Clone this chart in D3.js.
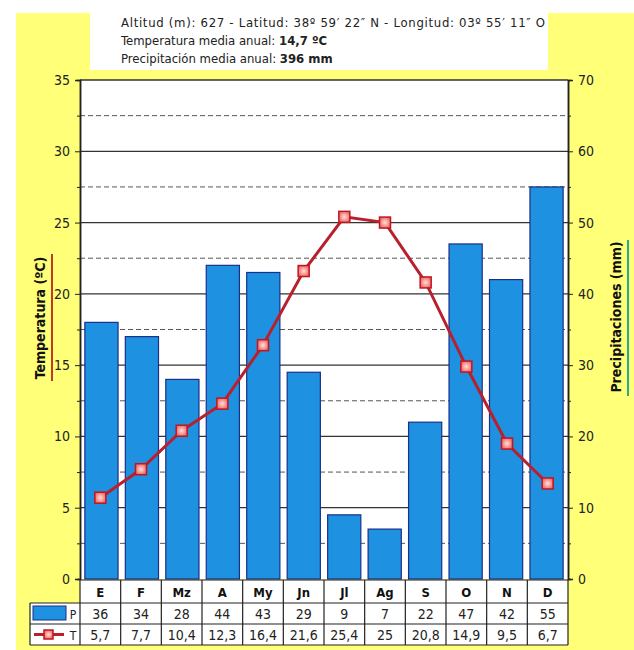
<!DOCTYPE html>
<html><head><meta charset="utf-8">
<script src="https://cdn.jsdelivr.net/npm/d3@7"></script>
<style>body{margin:0;background:#fff}svg{display:block}</style>
</head><body>
<script>
const months = ["E","F","Mz","A","My","Jn","Jl","Ag","S","O","N","D"];
const precip = [36,34,28,44,43,29,9,7,22,47,42,55];
const temp = [5.7,7.7,10.4,12.3,16.4,21.6,25.4,25,20.8,14.9,9.5,6.7];
const tempLabels = ["5,7","7,7","10,4","12,3","16,4","21,6","25,4","25","20,8","14,9","9,5","6,7"];
const tempTicks = [0,5,10,15,20,25,30,35];
const precipTicks = [0,10,20,30,40,50,60,70];
const headerLines = [
  [["Altitud (m): 627 - Latitud: 38º 59′ 22″ N - Longitud: 03º 55′ 11″ O", false]],
  [["Temperatura media anual: ", false], ["14,7 ºC", true]],
  [["Precipitación media anual: ", false], ["396 mm", true]]
];

const W = 634, H = 650;
const FONT = "'DejaVu Sans Condensed','DejaVu Sans',sans-serif";
const svg = d3.select("body").append("svg").attr("width", W).attr("height", H)
  .style("font-family", FONT);

// background
svg.append("rect").attr("x",16).attr("y",13).attr("width",W-16).attr("height",H-13).attr("fill","#ffff78");
svg.append("rect").attr("x",90).attr("y",12).attr("width",458).attr("height",58).attr("fill","#fff");

const L = 80, R = 568, T = 80, B = 579;
const x = d3.scaleBand().domain(months).range([L, R]).paddingInner(0.18).paddingOuter(0.12);
const xc = d3.scaleBand().domain(months).range([L, R]);
const yT = d3.scaleLinear().domain([0,35]).range([B, T]);
const yP = d3.scaleLinear().domain([0,70]).range([B, T]);

svg.append("rect").attr("x",L).attr("y",T).attr("width",R-L).attr("height",B-T).attr("fill","#fff");

// header text
const ht = svg.append("g").attr("font-size", 13).attr("fill","#222").style("font-family",FONT);
headerLines.forEach((parts, i) => {
  const t = ht.append("text").attr("x", 121).attr("y", 27 + i*18).attr("textLength", i===0 ? 424 : null);
  parts.forEach(p => t.append("tspan").text(p[0]).attr("font-weight", p[1] ? "bold" : "normal"));
});

// gridlines
const gridVals = d3.range(2.5, 35, 2.5);
svg.append("g").selectAll("line").data(gridVals).join("line")
  .attr("x1", L).attr("x2", R).attr("y1", d=>yT(d)).attr("y2", d=>yT(d))
  .attr("stroke", d => d%5===0 ? "#333" : "#555")
  .attr("stroke-width", d => d%5===0 ? 1.2 : 1)
  .attr("stroke-dasharray", d => d%5===0 ? null : "5,3");
svg.append("line").attr("x1",L).attr("x2",R).attr("y1",T).attr("y2",T).attr("stroke","#333").attr("stroke-width",1.5);

// bars
svg.append("g").selectAll("rect").data(months).join("rect")
  .attr("x", d=>x(d)).attr("width", x.bandwidth())
  .attr("y", (d,i)=>yP(precip[i])).attr("height", (d,i)=>B - yP(precip[i]))
  .attr("fill", "#1e92e0").attr("stroke", "#1a2f8a").attr("stroke-width", 1.2);

// axes
const axL = svg.append("g").attr("transform", `translate(${L},0)`)
  .call(d3.axisLeft(yT).tickValues(tempTicks).tickSize(5).tickPadding(5));
const axLm = svg.append("g").attr("transform", `translate(${L},0)`)
  .call(d3.axisLeft(yT).tickValues(d3.range(2.5,35,5)).tickSize(3).tickFormat(""));
const axR = svg.append("g").attr("transform", `translate(${R},0)`)
  .call(d3.axisRight(yP).tickValues(precipTicks).tickSize(5).tickPadding(5));
const axRm = svg.append("g").attr("transform", `translate(${R},0)`)
  .call(d3.axisRight(yP).tickValues(d3.range(5,70,10)).tickSize(3).tickFormat(""));
[axL, axR, axLm, axRm].forEach(a => {
  a.select(".domain").attr("stroke","#222").attr("stroke-width",1.5);
  a.selectAll(".tick line").attr("stroke","#222");
  a.selectAll("text").attr("font-size", 14).attr("fill","#222").attr("font-family",FONT);
});

// temperature line
const line = d3.line().x((d,i)=>xc(months[i]) + xc.bandwidth()/2).y(d=>yT(d));
svg.append("path").datum(temp).attr("d", line).attr("fill","none")
  .attr("stroke","#b8202e").attr("stroke-width",3);
const defs = svg.append("defs");
const rg = defs.append("radialGradient").attr("id","mk");
rg.append("stop").attr("offset","0%").attr("stop-color","#ffe0d8");
rg.append("stop").attr("offset","100%").attr("stop-color","#f07070");
svg.append("g").selectAll("rect").data(temp).join("rect")
  .attr("x",(d,i)=>xc(months[i]) + xc.bandwidth()/2 - 5.5)
  .attr("y", d=>yT(d)-5.5).attr("width",11).attr("height",11)
  .attr("fill","url(#mk)").attr("stroke","#c0161e").attr("stroke-width",1.5);

// axis titles
svg.append("text").attr("transform","translate(45,318) rotate(-90)").attr("text-anchor","middle")
  .attr("font-size",14).attr("font-weight","bold").attr("fill","#111").text("Temperatura (ºC)");
svg.append("line").attr("x1",52).attr("x2",52).attr("y1",254).attr("y2",381).attr("stroke","#c0392b").attr("stroke-width",2);
svg.append("text").attr("transform","translate(621,317) rotate(-90)").attr("text-anchor","middle")
  .attr("font-size",14).attr("font-weight","bold").attr("fill","#111").text("Precipitaciones (mm)");
svg.append("line").attr("x1",628).attr("x2",628).attr("y1",240).attr("y2",396).attr("stroke","#2aa890").attr("stroke-width",2);

// table
const rT = [580, 603, 624, 645];
const tb = svg.append("g");
tb.append("rect").attr("x",L).attr("y",rT[0]).attr("width",R-L).attr("height",rT[3]-rT[0]).attr("fill","#fff");
tb.append("rect").attr("x",30).attr("y",rT[1]).attr("width",L-30).attr("height",rT[3]-rT[1]).attr("fill","#fff");
const bStroke = "#222";
[[L,R,rT[0]],[30,R,rT[1]],[30,R,rT[2]],[30,R,rT[3]]].forEach(a=>
  tb.append("line").attr("x1",a[0]).attr("x2",a[1]).attr("y1",a[2]).attr("y2",a[2]).attr("stroke",bStroke).attr("stroke-width",1.2));
months.forEach((m,i)=>{
  tb.append("line").attr("x1",xc(m)).attr("x2",xc(m)).attr("y1",rT[0]).attr("y2",rT[3]).attr("stroke",bStroke).attr("stroke-width",1.2);
});
tb.append("line").attr("x1",R).attr("x2",R).attr("y1",rT[0]).attr("y2",rT[3]).attr("stroke",bStroke).attr("stroke-width",1.2);
tb.append("line").attr("x1",30).attr("x2",30).attr("y1",rT[1]).attr("y2",rT[3]).attr("stroke",bStroke).attr("stroke-width",1.2);
const cx = m => xc(m) + xc.bandwidth()/2;
tb.selectAll("text.m").data(months).join("text").attr("class","m")
  .attr("x", cx).attr("y", rT[0]+17).attr("text-anchor","middle").attr("font-size",13).attr("font-weight","bold").attr("fill","#111").text(d=>d);
tb.selectAll("text.p").data(precip).join("text").attr("class","p")
  .attr("x",(d,i)=>cx(months[i])).attr("y", rT[1]+16).attr("text-anchor","middle").attr("font-size",14).attr("fill","#222").text(d=>d);
tb.selectAll("text.t").data(tempLabels).join("text").attr("class","t")
  .attr("x",(d,i)=>cx(months[i])).attr("y", rT[2]+16).attr("text-anchor","middle").attr("font-size",14).attr("fill","#222").text(d=>d);
// legend
tb.append("rect").attr("x",33).attr("y",606).attr("width",33).attr("height",14).attr("fill","#1e92e0").attr("stroke","#1a2f8a");
tb.append("text").attr("x",73).attr("y",619).attr("text-anchor","middle").attr("font-size",12).attr("fill","#222").text("P");
tb.append("line").attr("x1",34).attr("x2",64).attr("y1",634.5).attr("y2",634.5).attr("stroke","#b8202e").attr("stroke-width",3);
tb.append("rect").attr("x",44).attr("y",630).attr("width",9).attr("height",9).attr("fill","url(#mk)").attr("stroke","#c0161e").attr("stroke-width",1.5);
tb.append("text").attr("x",73).attr("y",640).attr("text-anchor","middle").attr("font-size",12).attr("fill","#222").text("T");
</script>
</body></html>
